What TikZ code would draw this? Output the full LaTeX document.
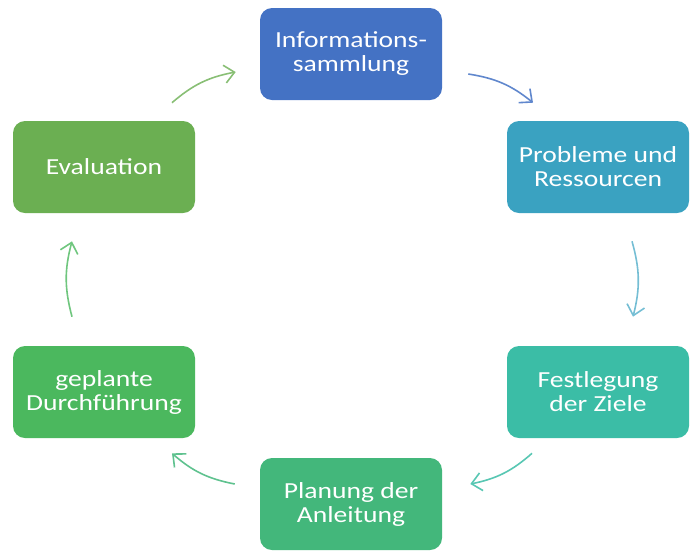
\documentclass[tikz,border=0pt]{standalone}
\usepackage{fontspec}
\setmainfont{Carlito}[FakeStretch=1.2]
\usepackage{tikz}
\usetikzlibrary{arrows.meta,calc,positioning}
\definecolor{infoblau}{HTML}{4472C4}
\definecolor{probtuerkis}{HTML}{3AA2C1}
\definecolor{zielgruen}{HTML}{3BBDA6}
\definecolor{plangruen}{HTML}{43B77B}
\definecolor{durchgruen}{HTML}{4BB85E}
\definecolor{evalgruen}{HTML}{6BAF52}

\begin{document}
\begin{tikzpicture}[x=1pt,y=1pt,auto,semithick]
	\tikzstyle{box}=[rectangle, rounded corners=12pt, minimum width=182pt, minimum height=92pt, inner sep=2pt, text=white, align=center, font=\fontsize{23}{24}\selectfont]
	\tikzstyle{pfeil}=[line width=1.6pt, -{Straight Barb[length=10pt,width=18pt]}, bend left=15]
	\useasboundingbox (0,0) rectangle (693,-550);
		\node[box,fill=infoblau]   (info)  at (351,-54)  {Informations-\\sammlung};
		\node[box,fill=probtuerkis] (prob) at (598,-167) {Probleme und\\Ressourcen};
		\node[box,fill=zielgruen]  (ziele) at (598,-392) {Festlegung\\der Ziele};
		\node[box,fill=plangruen]  (plan)  at (351,-504) {Planung der\\Anleitung};
		\node[box,fill=durchgruen] (durch) at (104,-392) {geplante\\Durchführung};
		\node[box,fill=evalgruen]  (eval)  at (104,-167) {Evaluation};
		\coordinate (a1) at ($(info.east)+(26,-20)$);
		\coordinate (a2) at ($(prob.north)+(-65,18)$);
		\coordinate (b1) at ($(prob.south)+(34,-28)$);
		\coordinate (b2) at ($(ziele.north)+(35,29)$);
		\coordinate (c1) at ($(ziele.south)+(-66,-15)$);
		\coordinate (c2) at ($(plan.east)+(28,20)$);
		\coordinate (d1) at ($(plan.west)+(-25,20)$);
		\coordinate (d2) at ($(durch.south)+(68,-15)$);
		\coordinate (e1) at ($(durch.north)+(-32,29)$);
		\coordinate (e2) at ($(eval.south)+(-32,-28)$);
		\coordinate (f1) at ($(eval.north)+(68,18)$);
		\coordinate (f2) at ($(info.west)+(-24,-18)$);
		\path
			(a1) edge[pfeil,draw=infoblau!85] (a2)
			(b1) edge[pfeil,draw=probtuerkis!70] (b2)
			(c1) edge[pfeil,draw=zielgruen!85] (c2)
			(d1) edge[pfeil,draw=plangruen!85] (d2)
			(e1) edge[pfeil,draw=durchgruen!80] (e2)
			(f1) edge[pfeil,draw=evalgruen!80] (f2);
\end{tikzpicture}
\end{document}
